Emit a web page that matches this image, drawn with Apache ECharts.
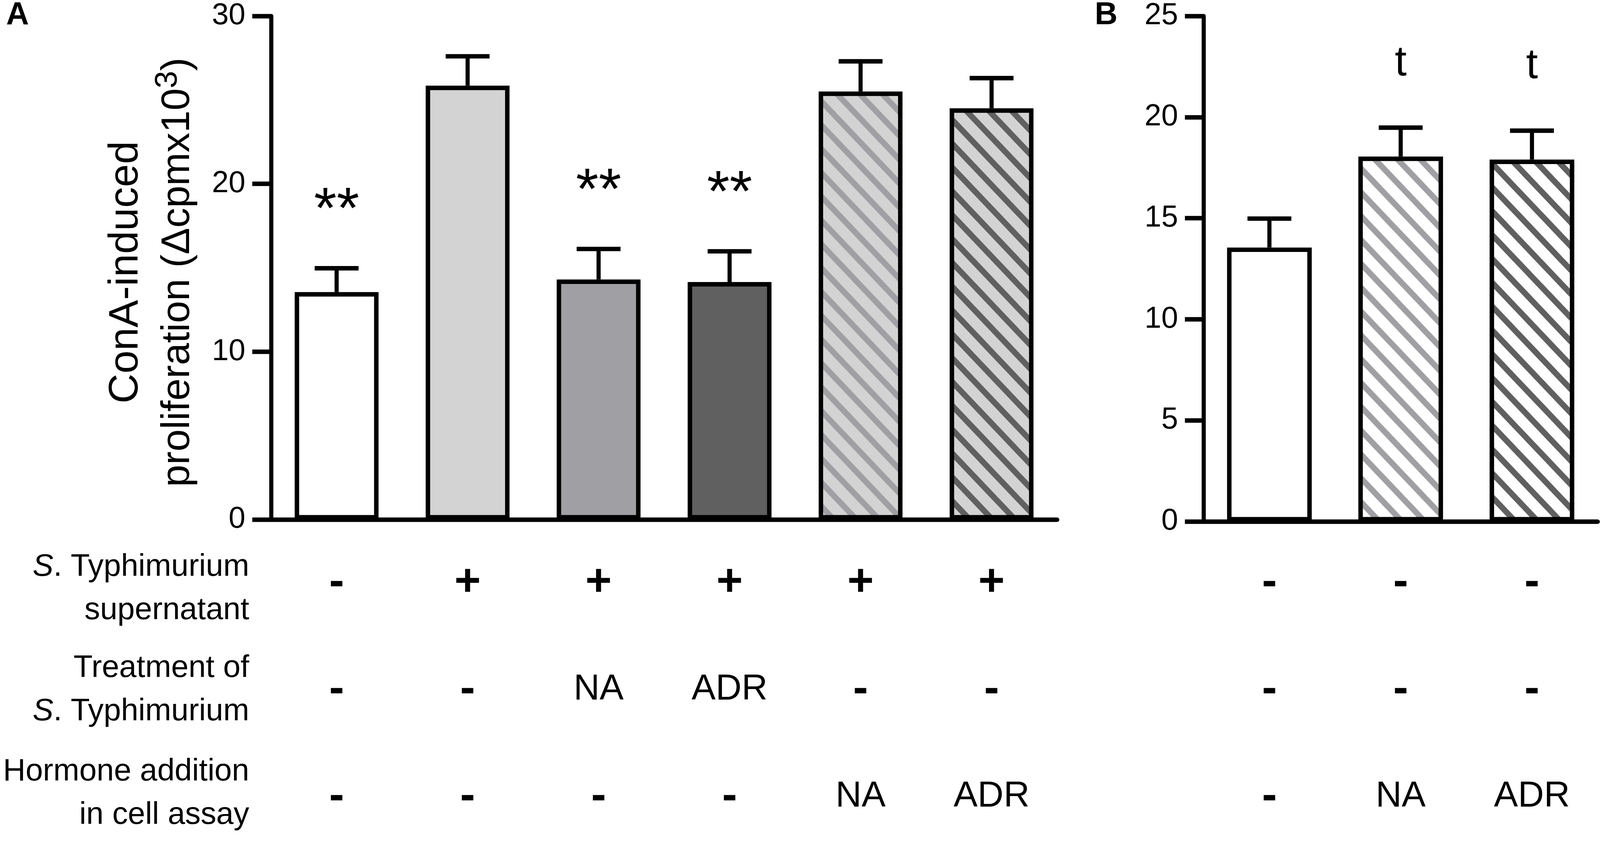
<!DOCTYPE html>
<html>
<head>
<meta charset="utf-8">
<script src="https://cdn.jsdelivr.net/npm/echarts@6/dist/echarts.min.js"></script>
<style>
  html, body { margin: 0; padding: 0; background: #fff; overflow: hidden; }
  #chart { width: 100vw; height: 100vh; }
</style>
</head>
<body>
<div id="chart"></div>
<script>
// ---- data: panel A ----
const catsA = ['Control', 'Supernatant', 'Sup. NA-treated', 'Sup. ADR-treated', 'Sup. + NA', 'Sup. + ADR'];
const meanA = [13.55, 25.85, 14.3, 14.15, 25.5, 24.5];
const semA = [1.42, 1.75, 1.82, 1.83, 1.8, 1.8];
const sigA = ['**', '', '**', '**', '', ''];
const supA = ['-', '+', '+', '+', '+', '+'];
const treatA = ['-', '-', 'NA', 'ADR', '-', '-'];
const hormA = ['-', '-', '-', '-', 'NA', 'ADR'];
const yTicksA = [0, 10, 20, 30];

// ---- data: panel B ----
const catsB = ['Control', 'NA', 'ADR'];
const meanB = [13.55, 18.05, 17.9];
const semB = [1.43, 1.43, 1.43];
const sigB = ['', 't', 't'];
const supB = ['-', '-', '-'];
const treatB = ['-', '-', '-'];
const hormB = ['-', 'NA', 'ADR'];
const yTicksB = [0, 5, 10, 15, 20, 25];

const rowLabels = [
    '{i|S}{n|. Typhimurium}\n{n|supernatant}',
    '{n|Treatment of}\n{i|S}{n|. Typhimurium}',
    '{n|Hormone addition}\n{n|in cell assay}'
];
const yTitle = '{t|ConA-induced}\n{t2|proliferation (Δcpmx10}{sup|3}{t2|)}';

const FONT = 'Liberation Sans, Arial, sans-serif';

// layout is measured on a 4668 x 2153 page, scaled to the real window
const sx = window.innerWidth / 4668;
const sy = window.innerHeight / 2153;
const sf = Math.min(sx, sy);
const X = v => v * sx, Y = v => v * sy, F = v => v * sf;

// diagonal hatch tile
function stripes(bg, fg) {
    const W = Math.round(X(66)), H = Math.round(Y(61));
    const c = document.createElement('canvas');
    c.width = W; c.height = H;
    const ctx = c.getContext('2d');
    ctx.fillStyle = bg;
    ctx.fillRect(0, 0, W, H);
    ctx.strokeStyle = fg;
    ctx.lineWidth = F(17);
    for (let k = -1; k <= 1; k++) {
        ctx.beginPath();
        ctx.moveTo(k * W - W, -H);
        ctx.lineTo(k * W + 2 * W, 2 * H);
        ctx.stroke();
    }
    return { image: c, repeat: 'repeat' };
}

const fillA = ['#ffffff', '#d3d3d3', '#a0a0a4', '#606060',
    stripes('#d3d3d3', '#a0a0a4'), stripes('#d3d3d3', '#606060')];
const fillB = ['#ffffff', stripes('#ffffff', '#a0a0a4'), stripes('#ffffff', '#606060')];

var myChart = echarts.init(document.getElementById('chart'));

function tableLabel(rows) {
    return function (value, index) {
        return rows.map(r => {
            const t = r[index];
            return (t === '+' || t === '-') ? '{sg|' + t + '}' : '{tx|' + t + '}';
        }).join('\n');
    };
}

const tableRich = {
    sg: { fontSize: F(132), fontWeight: 'bold', lineHeight: Y(274), fontFamily: FONT, color: '#000' },
    tx: { fontSize: F(105), lineHeight: Y(274), fontFamily: FONT, color: '#000' }
};

function errorBar(params, api) {
    const m = api.value(1), s = api.value(2);
    const p0 = api.coord([api.value(0), m]);
    const p1 = api.coord([api.value(0), m + s]);
    const half = X(64);
    return {
        type: 'group',
        children: [
            { type: 'line', shape: { x1: p0[0], y1: p0[1], x2: p1[0], y2: p1[1] },
              style: { stroke: '#000', lineWidth: F(12) } },
            { type: 'line', shape: { x1: p1[0] - half, y1: p1[1], x2: p1[0] + half, y2: p1[1] },
              style: { stroke: '#000', lineWidth: F(13) } }
        ]
    };
}

function marks(labels, fontSize, offset) {
    return function (params, api) {
        const txt = labels[params.dataIndex];
        if (!txt) return null;
        const p = api.coord([api.value(0), api.value(1) + api.value(2)]);
        return {
            type: 'text',
            x: p[0],
            y: p[1] - Y(offset),
            style: { text: txt, fontSize: F(fontSize), fontFamily: FONT, fill: '#000',
                     align: 'center', verticalAlign: 'middle' }
        };
    };
}

function yAxisCfg(grid, ticks) {
    return {
        type: 'value', gridIndex: grid,
        min: ticks[0], max: ticks[ticks.length - 1], interval: ticks[1] - ticks[0],
        axisLine: { show: true, lineStyle: { color: '#000', width: F(12) } },
        axisTick: { show: true, length: X(55), lineStyle: { color: '#000', width: F(13) } },
        axisLabel: { margin: X(75), fontSize: F(88), fontFamily: FONT, color: '#000' },
        splitLine: { show: false }
    };
}

function xAxisCfg(grid, cats, rows, margin) {
    return {
        type: 'category', gridIndex: grid, data: cats,
        axisLine: { show: true, lineStyle: { color: '#000', width: F(13) } },
        axisTick: { show: false },
        axisLabel: { interval: 0, margin: Y(margin), formatter: tableLabel(rows), rich: tableRich }
    };
}

const errA = meanA.map((m, i) => [i, m, semA[i]]);
const errB = meanB.map((m, i) => [i, m, semB[i]]);

function panelLetter(x, text) {
    return {
        type: 'text', x: X(x), y: Y(40),
        style: { text: text, fontSize: F(92), fontWeight: 'bold', fontFamily: FONT, fill: '#000',
                 align: 'left', verticalAlign: 'middle' }
    };
}

var option = {
    animation: false,
    backgroundColor: '#fff',
    grid: [
        { left: X(791), top: Y(41), width: X(2293), height: Y(1289), outerBoundsMode: 'none', containLabel: false },
        { left: X(3512), top: Y(41), width: X(1149), height: Y(1294), outerBoundsMode: 'none', containLabel: false }
    ],
    xAxis: [
        xAxisCfg(0, catsA, [supA, treatA, hormA], 25),
        xAxisCfg(1, catsB, [supB, treatB, hormB], 20)
    ],
    yAxis: [yAxisCfg(0, yTicksA), yAxisCfg(1, yTicksB)],
    series: [
        {
            type: 'bar', xAxisIndex: 0, yAxisIndex: 0, barWidth: '64%',
            data: meanA.map((m, i) => ({ value: m, itemStyle: { color: fillA[i] } })),
            itemStyle: { borderColor: '#000', borderWidth: F(13) }
        },
        { type: 'custom', xAxisIndex: 0, yAxisIndex: 0, renderItem: errorBar, data: errA, z: 3 },
        { type: 'custom', xAxisIndex: 0, yAxisIndex: 0, renderItem: marks(sigA, 170, 145), data: errA, z: 3 },
        {
            type: 'bar', xAxisIndex: 1, yAxisIndex: 1, barWidth: '64.5%',
            data: meanB.map((m, i) => ({ value: m, itemStyle: { color: fillB[i] } })),
            itemStyle: { borderColor: '#000', borderWidth: F(13) }
        },
        { type: 'custom', xAxisIndex: 1, yAxisIndex: 1, renderItem: errorBar, data: errB, z: 3 },
        { type: 'custom', xAxisIndex: 1, yAxisIndex: 1, renderItem: marks(sigB, 124, 164), data: errB, z: 3 }
    ],
    graphic: [
        panelLetter(18, 'A'),
        panelLetter(3194, 'B'),
        {
            // rotated title: its length runs along y, so size the font with sy
            type: 'text', x: X(444), y: Y(697), rotation: Math.PI / 2,
            style: {
                text: yTitle, align: 'center', verticalAlign: 'middle',
                rich: {
                    t: { fontSize: 106 * sy, lineHeight: X(152), fontFamily: FONT, fill: '#000' },
                    t2: { fontSize: 102 * sy, lineHeight: X(152), fontFamily: FONT, fill: '#000' },
                    sup: { fontSize: 80 * sy, lineHeight: X(72), verticalAlign: 'top', fontFamily: FONT, fill: '#000' }
                }
            }
        }
    ].concat([1507, 1766, 2031].map((y, k) => ({
        type: 'text', x: X(727), y: Y(y),
        style: {
            text: rowLabels[k], align: 'right', verticalAlign: 'middle',
            rich: {
                i: { fontSize: F(91), fontStyle: 'italic', lineHeight: Y(111), fontFamily: FONT, fill: '#000' },
                n: { fontSize: F(91), lineHeight: Y(111), fontFamily: FONT, fill: '#000' }
            }
        }
    })))
};

myChart.setOption(option);
</script>
</body>
</html>
